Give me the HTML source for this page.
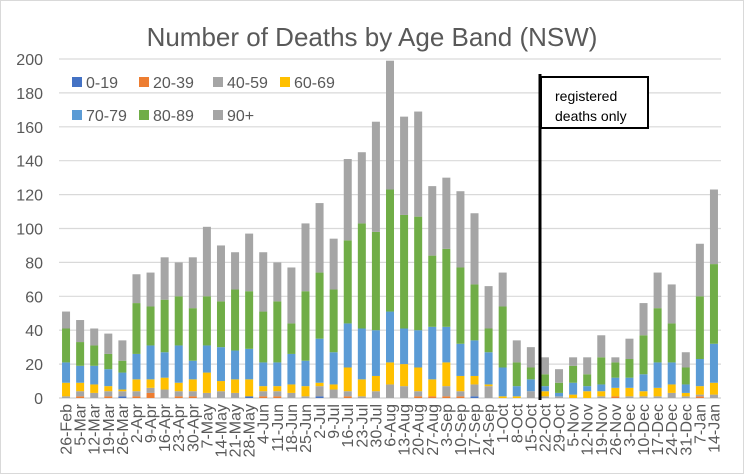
<!DOCTYPE html>
<html><head><meta charset="utf-8"><style>
body{margin:0;background:#fff;}
svg{display:block;font-family:"Liberation Sans",sans-serif;}
</style></head><body>
<svg id="chart" width="744" height="474">
<rect x="0.5" y="0.5" width="743" height="473" fill="#fff" stroke="#d9d9d9"/>
<text x="372" y="46" text-anchor="middle" font-size="26" fill="#595959">Number of Deaths by Age Band (NSW)</text>
<g id="grid"></g><g id="bars"></g><g id="xlabels"></g>
<g font-size="16" fill="#595959" id="legend"></g>
<line x1="540" y1="74" x2="540" y2="400" stroke="#000" stroke-width="3"/>
<rect x="541" y="77" width="107" height="51" fill="#fff" stroke="#000" stroke-width="2"/>
<text x="555" y="101" font-size="14" fill="#000">registered</text>
<text x="555" y="121" font-size="14" fill="#000">deaths only</text>
</svg>
<script>
const categories=["26-Feb","5-Mar","12-Mar","19-Mar","26-Mar","2-Apr","9-Apr","16-Apr","23-Apr","30-Apr","7-May","14-May","21-May","28-May","4-Jun","11-Jun","18-Jun","25-Jun","2-Jul","9-Jul","16-Jul","23-Jul","30-Jul","6-Aug","13-Aug","20-Aug","27-Aug","3-Sep","10-Sep","17-Sep","24-Sep","1-Oct","8-Oct","15-Oct","22-Oct","29-Oct","5-Nov","12-Nov","19-Nov","26-Nov","3-Dec","10-Dec","17-Dec","24-Dec","31-Dec","7-Jan","14-Jan"];
const age0_19=[0,0,0,0,1,0,0,0,0,0,0,0,0,1,0,0,0,0,1,0,0,0,0,0,0,0,0,0,0,1,0,0,0,0,0,0,0,0,0,0,0,0,0,0,0,0,0];
const age20_39=[0,1,0,1,0,1,3,0,1,1,0,0,0,0,1,1,0,0,0,0,1,0,0,0,0,1,1,1,1,0,0,0,0,0,0,0,0,0,0,1,0,0,0,0,0,1,0];
const age40_59=[1,3,3,3,3,3,3,5,3,3,3,4,3,0,3,3,3,1,6,5,3,1,4,8,7,3,0,6,3,7,7,0,0,4,1,1,0,0,1,0,1,1,1,3,1,1,2];
const age60_69=[8,5,5,3,1,7,5,7,5,7,12,6,8,10,3,3,5,6,2,3,14,10,9,13,13,14,10,14,9,5,1,1,1,0,3,0,2,4,3,5,5,3,5,5,2,5,7];
const age70_79=[12,10,11,10,10,15,20,15,22,11,16,20,17,18,14,14,18,15,26,19,26,30,27,30,21,22,31,21,19,21,19,17,6,7,3,2,7,3,4,6,6,10,15,13,5,16,23];
const age80_89=[20,14,12,9,7,30,23,31,29,31,29,27,36,34,30,36,18,41,39,37,49,62,58,72,67,67,42,46,45,33,14,36,14,7,7,6,10,7,16,9,11,23,32,23,10,37,47];
const age90p=[10,13,10,12,12,17,20,25,20,30,41,33,22,34,35,23,33,40,41,30,48,42,65,76,58,62,41,42,45,42,25,20,13,12,10,8,5,10,13,3,12,19,21,23,9,31,44];
const yTicks=[0,20,40,60,80,100,120,140,160,180,200];
const series=[["0-19",age0_19,"#4472C4"],["20-39",age20_39,"#ED7D31"],["40-59",age40_59,"#A5A5A5"],["60-69",age60_69,"#FFC000"],["70-79",age70_79,"#5B9BD5"],["80-89",age80_89,"#70AD47"],["90+",age90p,"#A5A5A5"]];
const NS="http://www.w3.org/2000/svg";
const L=59,R=721,T=59,B=398;
const y=v=>B-(v/200)*(B-T);
const step=(R-L)/categories.length;
const x=i=>L+step*(i+0.5);
const bw=8;
function mk(t,a,p){const e=document.createElementNS(NS,t);for(const k in a)e.setAttribute(k,a[k]);p.appendChild(e);return e;}
const grid=document.getElementById('grid');
yTicks.forEach(v=>{
 const ln=mk('line',{x1:L,x2:R,y1:y(v),y2:y(v),stroke:'#d9d9d9','stroke-width':v===0?1.5:1.2},grid);
 
 
 const t=mk('text',{x:43,y:y(v)+6,'text-anchor':'end','font-size':16,fill:'#595959'},grid);
 t.textContent=v;
 
 
});
const bars=document.getElementById('bars');
categories.forEach((c,i)=>{
 let cum=0;
 series.forEach(([name,arr,col])=>{
  const v=arr[i];if(!v){return;}
  const r=mk('rect',{x:x(i)-bw/2,y:y(cum+v),width:bw,height:y(cum)-y(cum+v),fill:col},bars);
  
  
  cum+=v;
 });
});
const xl=document.getElementById('xlabels');
categories.forEach((c,i)=>{
 const t=mk('text',{transform:`translate(${x(i)+5.5},404) rotate(-90)`,'text-anchor':'end','font-size':16,fill:'#595959'},xl);
 t.textContent=c;
 
 
});
const lg=document.getElementById('legend');
const lpos=[[72,82],[139,82],[213,82],[280,82],[72,115],[139,115],[213,115]];
series.forEach(([name,arr,col],k)=>{
 const [lx,ly]=lpos[k];
 const r=mk('rect',{x:lx,y:ly-5,width:10,height:10,fill:col},lg);
 
 
 const t=mk('text',{x:lx+14,y:ly+6,'font-size':16,fill:'#595959'},lg);
 t.textContent=name;
 
 
});
</script>
</body></html>
